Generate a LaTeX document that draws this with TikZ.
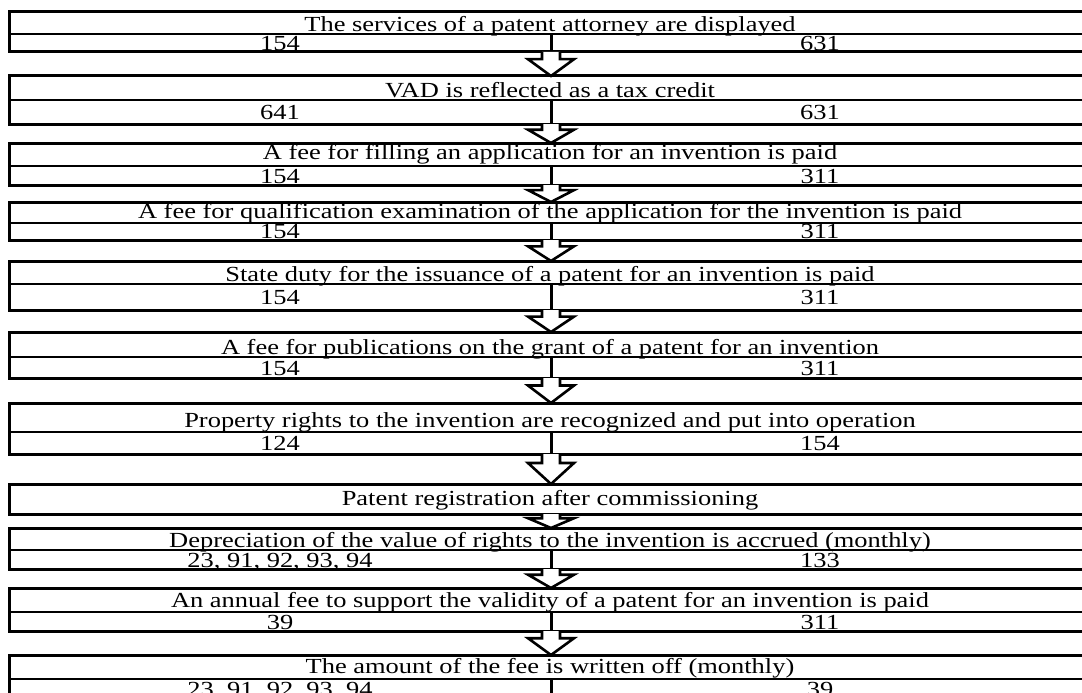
\documentclass[tikz,border=0pt]{standalone}
\usepackage{fontspec}
\setmainfont{Liberation Serif}
\usetikzlibrary{calc}

\begin{document}
\begin{tikzpicture}[x=1pt,y=-1pt,
  boxline/.style={draw=black,line width=3pt,fill=white},
  rowline/.style={black,line width=2.6pt},
  splitline/.style={black,line width=3pt},
  headtext/.style={inner sep=0pt,anchor=base,xscale=1.23,font=\fontsize{21.5}{24}\selectfont},
  acctext/.style={headtext},
  blockarrow/.style={draw=black,line width=2.6pt,fill=white,line join=miter}]
\clip (0,0) rectangle (1082,693);
% box 1
\draw[boxline] (9,12) rectangle (1089,52);
\draw[rowline] (9,34) -- (1089,34);
\draw[splitline] (551,34) -- (551,52);
\node[headtext] (h1) at (550,32) {The services of a patent attorney are displayed};
\node[acctext] (d1) at (280,51) {154};
\node[acctext] (c1) at (820,51) {631};
\coordinate (b1s) at (551,52);
% box 2
\draw[boxline] (9,76) rectangle (1089,124);
\draw[rowline] (9,100) -- (1089,100);
\draw[splitline] (551,100) -- (551,124);
\node[headtext] (h2) at (550,98) {VAD is reflected as a tax credit};
\node[acctext] (d2) at (280,119) {641};
\node[acctext] (c2) at (820,119) {631};
\coordinate (b2n) at (551,76);
\coordinate (b2s) at (551,124);
% box 3
\draw[boxline] (9,143) rectangle (1089,185);
\draw[rowline] (9,166) -- (1089,166);
\draw[splitline] (551,166) -- (551,185);
\node[headtext] (h3) at (550,159) {A fee for filling an application for an invention is paid};
\node[acctext] (d3) at (280,183) {154};
\node[acctext] (c3) at (820,183) {311};
\coordinate (b3n) at (551,143);
\coordinate (b3s) at (551,185);
% box 4
\draw[boxline] (9,202) rectangle (1089,240);
\draw[rowline] (9,223) -- (1089,223);
\draw[splitline] (551,223) -- (551,240);
\node[headtext] (h4) at (550,218) {A fee for qualification examination of the application for the invention is paid};
\node[acctext] (d4) at (280,238) {154};
\node[acctext] (c4) at (820,238) {311};
\coordinate (b4n) at (551,202);
\coordinate (b4s) at (551,240);
% box 5
\draw[boxline] (9,261) rectangle (1089,310);
\draw[rowline] (9,284) -- (1089,284);
\draw[splitline] (551,284) -- (551,310);
\node[headtext] (h5) at (550,281) {State duty for the issuance of a patent for an invention is paid};
\node[acctext] (d5) at (280,304) {154};
\node[acctext] (c5) at (820,304) {311};
\coordinate (b5n) at (551,261);
\coordinate (b5s) at (551,310);
% box 6
\draw[boxline] (9,332) rectangle (1089,378);
\draw[rowline] (9,357) -- (1089,357);
\draw[splitline] (551,357) -- (551,378);
\node[headtext] (h6) at (550,354) {A fee for publications on the grant of a patent for an invention};
\node[acctext] (d6) at (280,375) {154};
\node[acctext] (c6) at (820,375) {311};
\coordinate (b6n) at (551,332);
\coordinate (b6s) at (551,378);
% box 7
\draw[boxline] (9,403) rectangle (1089,454);
\draw[rowline] (9,432) -- (1089,432);
\draw[splitline] (551,432) -- (551,454);
\node[headtext] (h7) at (550,427) {Property rights to the invention are recognized and put into operation};
\node[acctext] (d7) at (280,450) {124};
\node[acctext] (c7) at (820,450) {154};
\coordinate (b7n) at (551,403);
\coordinate (b7s) at (551,454);
% box 8
\draw[boxline] (9,484) rectangle (1089,514);
\node[headtext] (h8) at (550,505) {Patent registration after commissioning};
\coordinate (b8n) at (551,484);
\coordinate (b8s) at (551,514);
% box 9
\draw[boxline] (9,528) rectangle (1089,569);
\draw[rowline] (9,550) -- (1089,550);
\draw[splitline] (551,550) -- (551,569);
\node[headtext] (h9) at (550,547) {Depreciation of the value of rights to the invention is accrued (monthly)};
\node[acctext] (d9) at (280,567) {23, 91, 92, 93, 94};
\node[acctext] (c9) at (820,567) {133};
\coordinate (b9n) at (551,528);
\coordinate (b9s) at (551,569);
% box 10
\draw[boxline] (9,588) rectangle (1089,631);
\draw[rowline] (9,612) -- (1089,612);
\draw[splitline] (551,612) -- (551,631);
\node[headtext] (h10) at (550,607) {An annual fee to support the validity of a patent for an invention is paid};
\node[acctext] (d10) at (280,629) {39};
\node[acctext] (c10) at (820,629) {311};
\coordinate (b10n) at (551,588);
\coordinate (b10s) at (551,631);
% box 11
\draw[boxline] (9,655) rectangle (1089,705);
\draw[rowline] (9,679) -- (1089,679);
\draw[splitline] (551,679) -- (551,705);
\node[headtext] (h11) at (550,673) {The amount of the fee is written off (monthly)};
\node[acctext] (d11) at (280,696) {23, 91, 92, 93, 94};
\node[acctext] (c11) at (820,696) {39};
\coordinate (b11n) at (551,655);
% arrows between the boxes
\foreach \a/\b in {b1s/b2n,b2s/b3n,b3s/b4n,b4s/b5n,b5s/b6n,b6s/b7n,b7s/b8n,b8s/b9n,b9s/b10n,b10s/b11n}
  \draw[blockarrow] ($(\a)+(-9,0)$) -- ($(\a)!0.3!(\b)+(-9,0)$) -- ($(\a)!0.3!(\b)+(-23,0)$)
    -- (\b) -- ($(\a)!0.3!(\b)+(23,0)$) -- ($(\a)!0.3!(\b)+(9,0)$) -- ($(\a)+(9,0)$);
\end{tikzpicture}
\end{document}
